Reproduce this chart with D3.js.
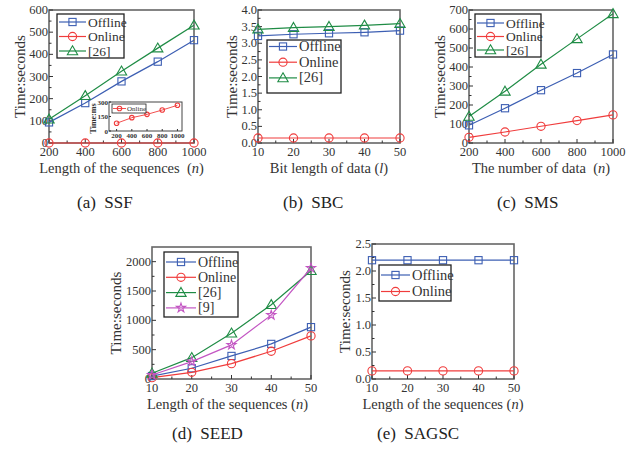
<!DOCTYPE html>
<meta charset="utf-8">
<head>
  <script src="https://d3js.org/d3.v7.min.js"></script>
  <style>
    body { margin: 0; background: #fff; }
    svg text { font-family: "Liberation Serif", "Times New Roman", "DejaVu Serif", serif; }
  </style>
</head>
<body>
<div id="chart"></div>
<script>
  // ---- data ----
  const nSeq = [200, 400, 600, 800, 1000];
  const bits = [10, 20, 30, 40, 50];
  const seqLen = [10, 20, 30, 40, 50];

  const ssfOffline = [93, 180, 278, 367, 464];
  const ssfOnline = [0, 0, 0, 0, 0];
  const ssf26 = [107, 213, 324, 428, 531];
  const ssfOnlineMs = [80, 138, 172, 217, 266];

  const sbcOffline = [3.22, 3.27, 3.30, 3.33, 3.38];
  const sbcOnline = [0.15, 0.15, 0.15, 0.15, 0.15];
  const sbc26 = [3.42, 3.47, 3.50, 3.54, 3.59];

  const smsOffline = [93, 183, 278, 368, 466];
  const smsOnline = [30, 58, 88, 118, 148];
  const sms26 = [140, 272, 414, 548, 680];

  const seedOffline = [50, 183, 393, 598, 884];
  const seedOnline = [22, 114, 262, 473, 735];
  const seed26 = [97, 364, 781, 1265, 1846];
  const seed9 = [68, 296, 581, 1089, 1892];

  const sagscOffline = [2.2, 2.2, 2.2, 2.2, 2.2];
  const sagscOnline = [0.15, 0.15, 0.15, 0.15, 0.15];

  const colors = { Offline: "#3d5fb3", Online: "#f03c3c", "[26]": "#1f8c45", "[9]": "#c356c3" };
  const shapes = { Offline: "square", Online: "circle", "[26]": "triangle", "[9]": "star" };

  const svg = d3.select("#chart").append("svg")
    .attr("width", 638).attr("height", 450);
  svg.append("rect").attr("width", 638).attr("height", 450).attr("fill", "#fff");

  function marker(g, shape, cx, cy, color, s) {
    s = s || 1;
    if (shape === "square") {
      g.append("rect").attr("x", cx - 3.6 * s).attr("y", cy - 3.6 * s)
        .attr("width", 7.2 * s).attr("height", 7.2 * s)
        .attr("fill", "none").attr("stroke", color).attr("stroke-width", 1.1);
    } else if (shape === "circle") {
      g.append("circle").attr("cx", cx).attr("cy", cy).attr("r", 4.1 * s)
        .attr("fill", "none").attr("stroke", color).attr("stroke-width", 1.1);
    } else if (shape === "triangle") {
      g.append("path").attr("d", d3.symbol(d3.symbolTriangle, 46 * s * s)())
        .attr("transform", `translate(${cx},${cy + 0.8})`)
        .attr("fill", "none").attr("stroke", color).attr("stroke-width", 1.1);
    } else if (shape === "star") {
      g.append("path").attr("d", d3.symbol(d3.symbolStar, 26 * s * s)())
        .attr("transform", `translate(${cx},${cy})`)
        .attr("fill", "none").attr("stroke", color).attr("stroke-width", 1.1);
    }
  }

  function panel(cfg) {
    const g = svg.append("g");
    const x = d3.scaleLinear().domain(cfg.xDomain).range([cfg.left, cfg.right]);
    const y = d3.scaleLinear().domain(cfg.yDomain).range([cfg.bottom, cfg.top]);

    // frame
    g.append("rect").attr("x", cfg.left).attr("y", cfg.top)
      .attr("width", cfg.right - cfg.left).attr("height", cfg.bottom - cfg.top)
      .attr("fill", "none").attr("stroke", "#666").attr("stroke-width", 1.6);

    // ticks point inward, Origin style
    cfg.xMajor.forEach(v => {
      g.append("line").attr("x1", x(v)).attr("x2", x(v)).attr("y1", cfg.bottom).attr("y2", cfg.bottom - 4)
        .attr("stroke", "#333");
      g.append("text").attr("x", x(v)).attr("y", cfg.bottom + 13).attr("text-anchor", "middle")
        .attr("font-size", 12.5).attr("fill", "#333").text(v);
    });
    cfg.xMinor.forEach(v => {
      g.append("line").attr("x1", x(v)).attr("x2", x(v)).attr("y1", cfg.bottom).attr("y2", cfg.bottom - 2.5)
        .attr("stroke", "#333");
    });
    cfg.yMajor.forEach(v => {
      g.append("line").attr("x1", cfg.left).attr("x2", cfg.left + 4).attr("y1", y(v)).attr("y2", y(v))
        .attr("stroke", "#333");
      g.append("text").attr("x", cfg.left - 1).attr("y", y(v) + 4).attr("text-anchor", "end")
        .attr("font-size", 12.5).attr("fill", "#333").text(cfg.yFmt ? cfg.yFmt(v) : v);
    });
    cfg.yMinor.forEach(v => {
      g.append("line").attr("x1", cfg.left).attr("x2", cfg.left + 2.5).attr("y1", y(v)).attr("y2", y(v))
        .attr("stroke", "#333");
    });

    // titles
    g.append("text").attr("x", (cfg.left + cfg.right) / 2 + (cfg.xTitleDx || 0)).attr("y", cfg.bottom + 30)
      .attr("text-anchor", "middle").attr("font-size", 14.5).attr("fill", "#333")
      .html(cfg.xTitle);
    g.append("text")
      .attr("transform", `translate(${cfg.left - (cfg.yTitleOff || 24)},${(cfg.top + cfg.bottom) / 2}) rotate(-90)`)
      .attr("text-anchor", "middle").attr("font-size", 15).attr("fill", "#333").text("Time:seconds");
    g.append("text").attr("x", cfg.capX).attr("y", cfg.capY).attr("font-size", 17).attr("fill", "#222")
      .html(cfg.caption);

    // series
    const line = d3.line().x(d => x(d[0])).y(d => y(d[1]));
    cfg.series.forEach(s => {
      const pts = d3.zip(cfg.xs, s.values);
      g.append("path").attr("d", line(pts)).attr("fill", "none")
        .attr("stroke", colors[s.name]).attr("stroke-width", 1.2);
      pts.forEach(p => marker(g, shapes[s.name], x(p[0]), y(p[1]), colors[s.name]));
    });

    // legend
    const L = cfg.legend;
    g.append("rect").attr("x", L.x).attr("y", L.y).attr("width", L.w).attr("height", L.h)
      .attr("fill", "#fff").attr("stroke", "#222").attr("stroke-width", 1.3);
    cfg.series.forEach((s, i) => {
      const cy = L.y + L.first + i * L.step;
      g.append("line").attr("x1", L.x + 2).attr("x2", L.x + 2 + L.len).attr("y1", cy).attr("y2", cy)
        .attr("stroke", colors[s.name]).attr("stroke-width", 1.2);
      marker(g, shapes[s.name], L.x + 2 + L.len / 2, cy, colors[s.name]);
      g.append("text").attr("x", L.x + 4 + L.len).attr("y", cy + 4.5).attr("font-size", L.fs)
        .attr("fill", "#333").text(s.name);
    });
    return { g, x, y };
  }

  // (a) SSF
  const pa = panel({
    left: 49, right: 194, top: 10, bottom: 143,
    xDomain: [200, 1000], yDomain: [0, 600], xs: nSeq,
    xMajor: [200, 400, 600, 800, 1000], xMinor: [300, 500, 700, 900],
    yMajor: [0, 100, 200, 300, 400, 500, 600], yMinor: [50, 150, 250, 350, 450, 550],
    xTitle: "Length of the sequences&#160;&#160;(<tspan font-style='italic'>n</tspan>)",
    caption: "(a)&#160;&#160;SSF", capX: 77, capY: 208,
    series: [{ name: "Offline", values: ssfOffline }, { name: "Online", values: ssfOnline }, { name: "[26]", values: ssf26 }],
    legend: { x: 57, y: 14, w: 67, h: 44, first: 8, step: 14.5, len: 27, fs: 13.5 }
  });

  // inset in (a)
  (function () {
    const g = pa.g;
    const l = 109, r = 182, t = 102, b = 131;
    const x = d3.scaleLinear().domain([100, 1060]).range([l, r]);
    const y = d3.scaleLinear().domain([0, 300]).range([b, t]);
    g.append("rect").attr("x", l).attr("y", t).attr("width", r - l).attr("height", b - t)
      .attr("fill", "#fff").attr("stroke", "#444").attr("stroke-width", 1);
    nSeq.forEach(v => {
      g.append("line").attr("x1", x(v)).attr("x2", x(v)).attr("y1", b).attr("y2", b - 2).attr("stroke", "#333");
      g.append("text").attr("x", x(v)).attr("y", b + 7).attr("text-anchor", "middle")
        .attr("font-size", 7).attr("font-weight", "bold").attr("fill", "#333").text(v);
    });
    [0, 150, 300].forEach(v => {
      g.append("line").attr("x1", l).attr("x2", l + 2).attr("y1", y(v)).attr("y2", y(v)).attr("stroke", "#333");
      g.append("text").attr("x", l - 1).attr("y", y(v) + 2.5).attr("text-anchor", "end")
        .attr("font-size", 7).attr("font-weight", "bold").attr("fill", "#333").text(v);
    });
    g.append("text").attr("transform", `translate(${l - 13},${(t + b) / 2 + 2}) rotate(-90)`)
      .attr("text-anchor", "middle").attr("font-size", 8).attr("font-weight", "bold").attr("fill", "#333").text("Time:ms");
    const pts = d3.zip(nSeq, ssfOnlineMs);
    g.append("path").attr("d", d3.line().x(d => x(d[0])).y(d => y(d[1]))(pts))
      .attr("fill", "none").attr("stroke", colors.Online).attr("stroke-width", 0.9);
    pts.forEach(p => marker(g, "circle", x(p[0]), y(p[1]), colors.Online, 0.55));
    g.append("rect").attr("x", 112).attr("y", 104).attr("width", 34).attr("height", 9)
      .attr("fill", "#fff").attr("stroke", "#222").attr("stroke-width", 0.8);
    g.append("line").attr("x1", 113).attr("x2", 126).attr("y1", 108.5).attr("y2", 108.5)
      .attr("stroke", colors.Online).attr("stroke-width", 0.9);
    marker(g, "circle", 119.5, 108.5, colors.Online, 0.55);
    g.append("text").attr("x", 127).attr("y", 110.8).attr("font-size", 7).attr("fill", "#333").text("Online");
  })();

  // (b) SBC
  panel({
    left: 258, right: 400, top: 10, bottom: 143,
    xDomain: [10, 50], yDomain: [0, 4], xs: bits,
    xMajor: [10, 20, 30, 40, 50], xMinor: [15, 25, 35, 45],
    yMajor: [0, 0.5, 1, 1.5, 2, 2.5, 3, 3.5, 4], yMinor: [0.25, 0.75, 1.25, 1.75, 2.25, 2.75, 3.25, 3.75],
    yFmt: d3.format(".1f"), yTitleOff: 21,
    xTitle: "Bit length of data&#160;(<tspan font-style='italic'>l</tspan>)",
    caption: "(b)&#160;&#160;SBC", capX: 283, capY: 208,
    series: [{ name: "Offline", values: sbcOffline }, { name: "Online", values: sbcOnline }, { name: "[26]", values: sbc26 }],
    legend: { x: 267, y: 40, w: 74, h: 53, first: 6.5, step: 15.7, len: 28, fs: 14.5 }
  });

  // (c) SMS
  panel({
    left: 469, right: 613, top: 10, bottom: 143,
    xDomain: [200, 1000], yDomain: [0, 700], xs: nSeq,
    xMajor: [200, 400, 600, 800, 1000], xMinor: [300, 500, 700, 900],
    yMajor: [0, 100, 200, 300, 400, 500, 600, 700], yMinor: [50, 150, 250, 350, 450, 550, 650],
    xTitle: "The number of data&#160;&#160;(<tspan font-style='italic'>n</tspan>)",
    caption: "(c)&#160;&#160;SMS", capX: 497, capY: 208,
    series: [{ name: "Offline", values: smsOffline }, { name: "Online", values: smsOnline }, { name: "[26]", values: sms26 }],
    legend: { x: 475, y: 14, w: 66, h: 43, first: 9, step: 13.5, len: 27, fs: 13.5 }
  });

  // (d) SEED
  panel({
    left: 152, right: 311, top: 247, bottom: 379,
    xDomain: [10, 50], yDomain: [0, 2250], xs: seqLen,
    xMajor: [10, 20, 30, 40, 50], xMinor: [15, 25, 35, 45],
    yMajor: [0, 500, 1000, 1500, 2000], yMinor: [250, 750, 1250, 1750],
    xTitle: "Length of the sequences (<tspan font-style='italic'>n</tspan>)", xTitleDx: -4,
    yTitleOff: 31,
    caption: "(d)&#160;&#160;SEED", capX: 172, capY: 439,
    series: [{ name: "Offline", values: seedOffline }, { name: "Online", values: seedOnline },
             { name: "[26]", values: seed26 }, { name: "[9]", values: seed9 }],
    legend: { x: 164, y: 252, w: 74, h: 65, first: 10, step: 15.3, len: 30, fs: 14 }
  });

  // (e) SAGSC
  panel({
    left: 372, right: 514, top: 244, bottom: 379,
    xDomain: [10, 50], yDomain: [0, 2.5], xs: seqLen,
    xMajor: [10, 20, 30, 40, 50], xMinor: [15, 25, 35, 45],
    yMajor: [0, 0.5, 1, 1.5, 2, 2.5], yMinor: [0.25, 0.75, 1.25, 1.75, 2.25],
    yFmt: d3.format(".1f"),
    xTitle: "Length of the sequences (<tspan font-style='italic'>n</tspan>)",
    yTitleOff: 22,
    caption: "(e)&#160;&#160;SAGSC", capX: 377, capY: 439,
    series: [{ name: "Offline", values: sagscOffline }, { name: "Online", values: sagscOnline }],
    legend: { x: 379, y: 265, w: 72, h: 36, first: 10, step: 16.5, len: 29, fs: 14.5 }
  });
</script>
</body>
